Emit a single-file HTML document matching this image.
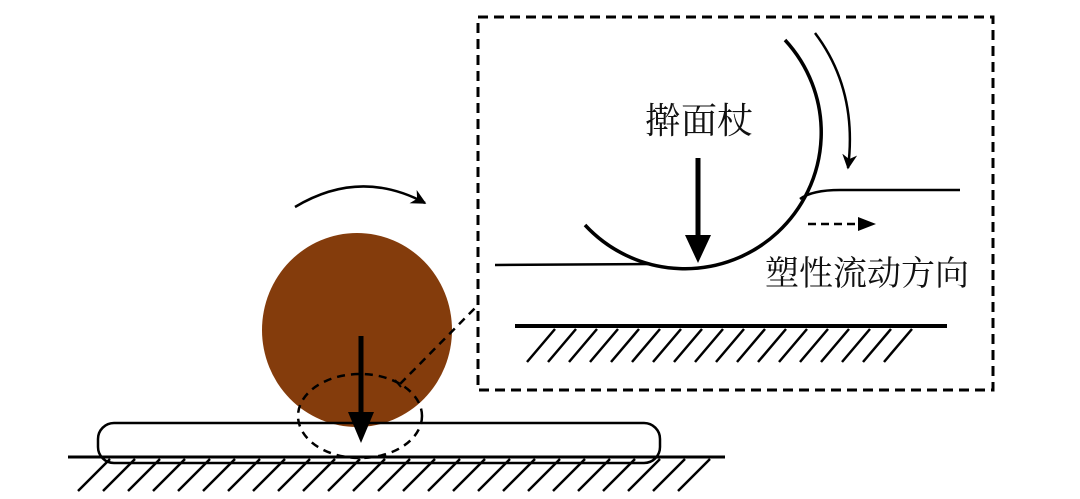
<!DOCTYPE html>
<html><head><meta charset="utf-8"><style>body{margin:0;background:#fff}svg{display:block}</style></head>
<body>
<svg width="1080" height="499" viewBox="0 0 1080 499" xmlns="http://www.w3.org/2000/svg">
<defs>
<marker id="ah" viewBox="0 0 10 10" refX="9" refY="5" markerWidth="6" markerHeight="6" orient="auto"><path d="M0,0 L10,5 L0,10 L3,5 Z" fill="#000"/></marker>
</defs>
<rect x="478" y="17" width="515" height="373" fill="none" stroke="#000" stroke-width="3" stroke-dasharray="10,6"/>
<path d="M295,207 Q360,168 425,203" fill="none" stroke="#000" stroke-width="2.5" marker-end="url(#ah)"/>
<ellipse cx="357" cy="330" rx="95" ry="97" fill="#843c0c"/>
<rect x="98" y="423" width="562" height="40" rx="16" fill="none" stroke="#000" stroke-width="2.5"/>
<line x1="68" y1="457" x2="725" y2="457" stroke="#000" stroke-width="3"/>
<g stroke="#000" stroke-width="2.5">
<line x1="110" y1="459" x2="78" y2="491"/><line x1="135" y1="459" x2="103" y2="491"/><line x1="160" y1="459" x2="128" y2="491"/><line x1="185" y1="459" x2="153" y2="491"/><line x1="210" y1="459" x2="178" y2="491"/><line x1="235" y1="459" x2="203" y2="491"/><line x1="260" y1="459" x2="228" y2="491"/><line x1="285" y1="459" x2="253" y2="491"/><line x1="310" y1="459" x2="278" y2="491"/><line x1="335" y1="459" x2="303" y2="491"/><line x1="360" y1="459" x2="328" y2="491"/><line x1="385" y1="459" x2="353" y2="491"/><line x1="410" y1="459" x2="378" y2="491"/><line x1="435" y1="459" x2="403" y2="491"/><line x1="460" y1="459" x2="428" y2="491"/><line x1="485" y1="459" x2="453" y2="491"/><line x1="510" y1="459" x2="478" y2="491"/><line x1="535" y1="459" x2="503" y2="491"/><line x1="560" y1="459" x2="528" y2="491"/><line x1="585" y1="459" x2="553" y2="491"/><line x1="610" y1="459" x2="578" y2="491"/><line x1="635" y1="459" x2="603" y2="491"/><line x1="660" y1="459" x2="628" y2="491"/><line x1="685" y1="459" x2="653" y2="491"/><line x1="710" y1="459" x2="678" y2="491"/>
</g>
<ellipse cx="360" cy="416" rx="62" ry="42" fill="none" stroke="#000" stroke-width="2.5" stroke-dasharray="8,6"/>
<line x1="400" y1="384" x2="478" y2="305" stroke="#000" stroke-width="2.5" stroke-dasharray="8,6"/>
<line x1="395" y1="380" x2="401" y2="387" stroke="#000" stroke-width="2"/>
<line x1="361" y1="336" x2="361" y2="415" stroke="#000" stroke-width="5"/>
<path d="M348,412 L374,412 L361,443 Z" fill="#000"/>
<path d="M495,265 L650,264" fill="none" stroke="#000" stroke-width="2.5"/>
<path d="M585,225 A132,132 0 0 0 785,40" fill="none" stroke="#000" stroke-width="3.5"/>
<path d="M800,199 Q812,190 840,190 L960,190" fill="none" stroke="#000" stroke-width="2.5"/>
<line x1="698" y1="158" x2="698" y2="238" stroke="#000" stroke-width="5"/>
<path d="M685,235 L711,235 L698,263 Z" fill="#000"/>
<path d="M815,33 Q858,90 848,168" fill="none" stroke="#000" stroke-width="2.5" marker-end="url(#ah)"/>
<line x1="808" y1="224" x2="862" y2="224" stroke="#000" stroke-width="2.5" stroke-dasharray="8,5"/>
<path d="M858,217 L876,224 L858,231 Z" fill="#000"/>
<line x1="515" y1="326" x2="947" y2="326" stroke="#000" stroke-width="4"/>
<g stroke="#000" stroke-width="2.5">
<line x1="555" y1="329" x2="527" y2="362"/><line x1="576" y1="329" x2="548" y2="362"/><line x1="597" y1="329" x2="569" y2="362"/><line x1="618" y1="329" x2="590" y2="362"/><line x1="639" y1="329" x2="611" y2="362"/><line x1="660" y1="329" x2="632" y2="362"/><line x1="681" y1="329" x2="653" y2="362"/><line x1="702" y1="329" x2="674" y2="362"/><line x1="723" y1="329" x2="695" y2="362"/><line x1="744" y1="329" x2="716" y2="362"/><line x1="765" y1="329" x2="737" y2="362"/><line x1="786" y1="329" x2="758" y2="362"/><line x1="807" y1="329" x2="779" y2="362"/><line x1="828" y1="329" x2="800" y2="362"/><line x1="849" y1="329" x2="821" y2="362"/><line x1="870" y1="329" x2="842" y2="362"/><line x1="891" y1="329" x2="863" y2="362"/><line x1="912" y1="329" x2="884" y2="362"/>
</g>
<text x="645" y="133" font-family="'Liberation Serif','Noto Serif CJK SC',serif" font-size="36" fill="#111">擀面杖</text>
<text x="765" y="285" font-family="'Liberation Serif','Noto Serif CJK SC',serif" font-size="34" fill="#111">塑性流动方向</text>
</svg>
</body></html>
